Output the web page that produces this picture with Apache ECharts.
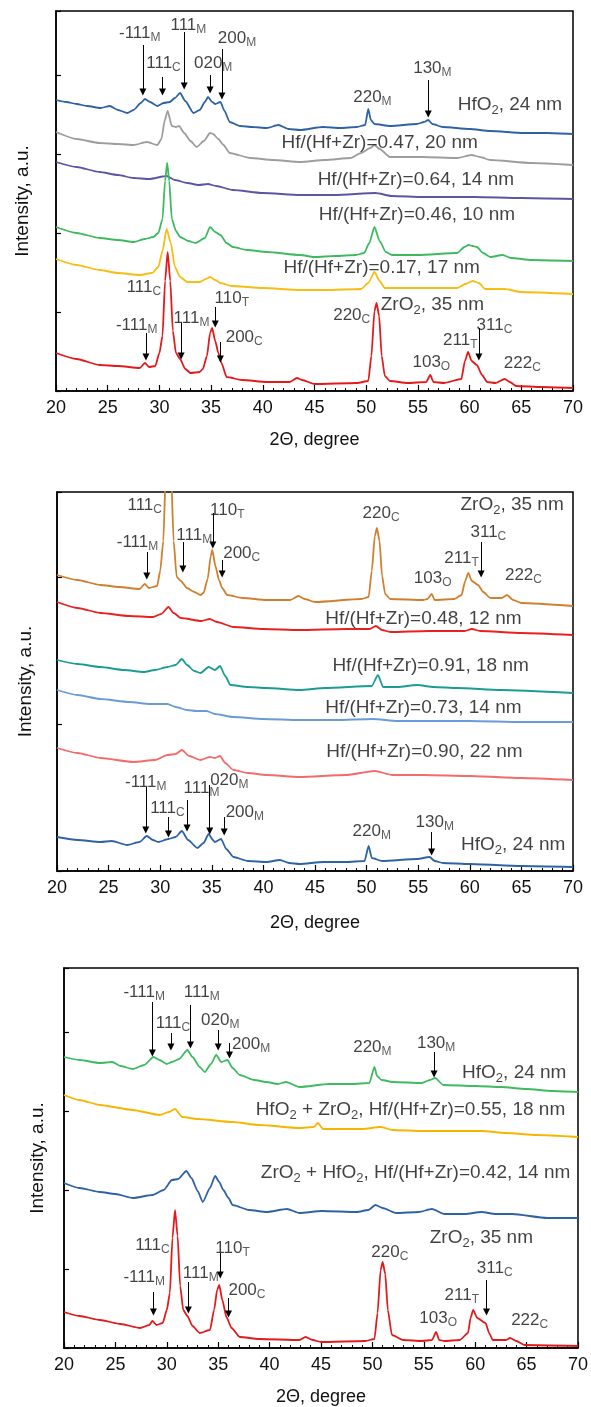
<!DOCTYPE html>
<html>
<head>
<meta charset="utf-8">
<script src="https://cdn.jsdelivr.net/npm/echarts@6/dist/echarts.min.js"></script>
<style>
  html, body { margin: 0; padding: 0; background: #fff; }
  #chart { width: 591px; height: 1407px; }
</style>
</head>
<body>
<div id="chart"></div>
<script>
// ---- panel 1 : series of Hf/(Hf+Zr) films, [2theta, intensity a.u.] ----
const p1HfO2 = [[20,291],[21,289],[22,287],[23,285],[24.3,283],[25.2,285],[26,281],[26.9,278],[27.5,281],[28.2,288],[28.6,292],[29.1,289],[29.8,285],[30.4,288],[31.0,289],[31.5,293],[32.0,298],[32.5,290],[33.3,278],[33.9,281],[34.4,289],[34.7,294],[35.1,289],[35.4,287],[35.9,289],[36.3,280],[36.8,269],[37.8,265],[39,264],[40.4,263],[41.5,266],[42.5,262],[43.6,261],[45.8,264],[47.5,263],[49.1,264],[49.9,266],[50.2,282],[50.45,271],[50.8,267],[52.3,265],[54.9,267],[55.6,269],[56.0,271],[56.4,267],[57.4,264],[60,262],[62.0,260],[65.2,258],[67.5,258],[70,257]];
const p1Hf047 = [[20,259],[22,252],[24.2,248],[26,247],[27.5,246],[28.8,249],[29.8,246],[30.2,252],[30.5,270],[30.8,280],[31.2,265],[31.6,264],[31.9,265],[32.4,258],[33.0,250],[33.6,244],[34.3,250],[34.9,258],[35.2,257],[35.7,252],[36.2,246],[36.8,238],[38.8,233],[41,231],[43.6,229],[46,231],[48.5,233],[49.5,238],[50.4,243],[50.8,246],[51.3,242],[52.3,234],[55.5,234],[58.8,233],[60.2,236],[61,234],[62,231],[66,228],[70,226]];
const p1Hf064 = [[20,229],[22,224],[24.2,219],[26,216],[27.5,213],[29,212],[30.7,215],[31.5,211],[32.7,208],[33.8,206],[34.7,207],[35.5,205],[37.1,201],[40,198],[43.6,196],[47,196],[50.9,198],[52.5,195],[55.5,194],[60.5,194],[65,193],[70,192]];
const p1Hf046 = [[20,164],[22,158],[24.2,153],[26,151],[27.5,149],[28.6,152],[29.4,154],[29.9,158],[30.3,172],[30.55,210],[30.75,228],[30.95,210],[31.2,172],[31.6,160],[32.0,154],[32.8,150],[33.5,148],[34.4,153],[34.9,164],[35.4,159],[35.9,156],[36.5,148],[37.1,144],[38.5,141],[40.4,139],[43.6,136],[45,134],[47,135],[49.0,136],[49.8,138],[50.3,148],[50.8,164],[51.3,150],[51.9,139],[52.5,136],[55,136],[58.8,138],[59.5,144],[59.9,146],[60.3,145],[60.7,144],[61.3,138],[62,134],[63.2,136],[64,133],[66,131],[70,130]];
const p1Hf017 = [[20,132],[22,126],[24.2,121],[26,118],[28.1,116],[29.3,118],[29.9,124],[30.3,140],[30.7,162],[31.1,148],[31.5,124],[32.0,114],[32.7,109],[33.9,109],[34.5,112],[34.9,114],[35.4,111],[35.9,108],[37,105],[40,103],[43.6,101],[46,101],[49.5,102],[50.2,108],[50.8,119],[51.3,110],[51.8,103],[55,103],[58.8,103],[59.6,107],[60.3,110],[60.9,108],[61.5,102],[63.4,102],[65,99],[70,97]];
const p1ZrO2 = [[20,38],[22,32],[24.2,26],[26,25],[28.1,23],[28.6,28],[29.0,24],[29.6,25],[30.0,38],[30.3,55],[30.55,110],[30.8,139],[31.05,110],[31.3,60],[31.6,38],[32.0,32],[32.5,22],[33.0,18],[33.9,19],[34.2,22],[34.6,35],[34.9,58],[35.1,63],[35.4,50],[35.7,38],[36.0,28],[36.5,14],[38,11],[40.4,9],[42.6,9],[43.3,13],[43.8,11],[45,7],[49.1,8],[50.2,10],[50.5,35],[50.8,80],[51.0,88],[51.25,75],[51.5,35],[51.8,15],[52.3,10],[54,8],[55.8,9],[56.2,16],[56.5,9],[57.5,8],[59.2,12],[59.55,30],[59.85,39],[60.2,30],[60.7,26],[61.2,16],[61.7,9],[62.5,8],[63.4,12],[63.9,9],[64.5,5],[67,4],[70,3]];

// ---- panel 2 ----
const p2ZrO2 = [[20,296],[22,291],[24.2,286],[26,284],[28.0,282],[28.5,287],[28.9,283],[29.7,285],[30.0,300],[30.3,330],[30.55,400],[30.8,430],[31.05,400],[31.3,330],[31.6,294],[32.0,290],[32.6,283],[33.3,279],[33.9,276],[34.2,278],[34.6,292],[34.9,315],[35.05,321],[35.35,305],[35.7,291],[36.0,283],[36.5,276],[38,273],[40.3,271],[42.6,271],[43.4,275],[44,272],[45,269],[49.5,272],[50.2,274],[50.5,300],[50.8,335],[51.0,343],[51.25,330],[51.5,295],[51.8,277],[52.3,272],[55.5,271],[55.9,272],[56.3,277],[56.6,271],[58.5,272],[59.2,276],[59.55,290],[59.85,298],[60.2,290],[60.8,286],[61.3,279],[62,273],[63.1,273],[63.6,276],[64.2,271],[65,268],[70,265]];
const p2Hf048 = [[20,269],[22,263],[24.2,258],[27,255],[29.3,254],[30.1,257],[30.8,264],[31.3,258],[32,253],[34,250],[34.8,252],[35.5,249],[37.1,244],[40,242],[43.5,241],[48,242],[50.3,242],[50.9,245],[51.5,241],[52.3,239],[56,240],[59.5,240],[60.2,242],[61,240],[65,238],[70,236]];
const p2Hf091 = [[20,211],[22,207],[24.2,204],[26.5,201],[28.4,199],[29.5,201],[30.7,204],[31.5,206],[32.1,212],[32.6,206],[33.3,200],[33.9,198],[34.7,204],[35.3,201],[35.8,205],[36.3,195],[36.8,186],[38.5,184],[40.3,183],[43.5,181],[46,183],[50.5,185],[51.1,196],[51.6,184],[53,184],[54.9,186],[56.5,184],[58.8,183],[63,181],[70,178]];
const p2Hf073 = [[20,181],[22,176],[24.2,172],[27,169],[29,167],[30.7,167],[31.5,164],[32.6,161],[33.5,160],[34.5,160],[35.3,157],[37.1,154],[40,152],[43.5,151],[47,151],[50.6,152],[53,150],[60,150],[65,149],[70,149]];
const p2Hf090 = [[20,123],[22,118],[24.2,113],[27.4,109],[29.5,111],[30.7,116],[31.5,117],[32.1,121],[32.8,115],[33.9,111],[34.8,114],[35.3,113],[35.8,115],[36.3,108],[37.1,101],[38.5,98],[40.3,96],[43.5,94],[48,96],[50.8,100],[52.5,96],[55.5,96],[60,95],[65,93],[70,91]];
const p2HfO2 = [[20,34],[22,31],[24.2,29],[25.3,30],[26.8,26],[28.0,29],[28.7,35],[29.3,31],[29.8,29],[30.8,32],[31.5,34],[32.1,40],[32.7,31],[33.6,23],[34.2,28],[34.7,37],[35.1,31],[35.3,29],[35.9,32],[36.4,22],[37.1,14],[38.5,10],[40.3,9],[41.6,11],[42.5,8],[43.5,7],[45.8,9],[48,9],[49.8,10],[50.2,25],[50.5,13],[51.5,10],[54.9,12],[56.1,14],[56.6,10],[57.4,8],[60,7],[65,5],[70,4]];

// ---- panel 3 ----
const p3HfO2 = [[20,291],[21.5,288],[23.5,285],[24.7,286],[25.5,282],[26.7,279],[27.8,283],[28.7,291],[29.3,288],[30,284],[30.5,286],[31.2,289],[32.0,298],[32.5,291],[33.2,281],[33.7,276],[34.3,284],[34.8,293],[35.3,286],[35.9,288],[36.4,280],[37.1,273],[38.5,268],[39.7,266],[40.8,264],[41.6,266],[42.9,261],[45.8,264],[48,264],[49.7,265],[50.2,281],[50.45,272],[50.9,268],[52,266],[54.8,265],[55.6,268],[56.1,270],[56.9,263],[60,262],[62.5,261],[65,259],[67.5,257],[70,256]];
const p3Hf055 = [[20,253],[21.5,248],[23.5,243],[26.7,238],[29.3,233],[30.2,236],[30.8,239],[31.5,231],[33,229],[36.4,226],[39,223],[42.9,220],[44.3,221],[44.7,225],[45.2,219],[47,219],[49,219],[50.8,221],[52,218],[55,217],[58,217],[60.6,217],[63,215],[66,213],[70,211]];
const p3Hf042 = [[20,165],[21.5,160],[23.5,156],[25,154],[26.7,150],[28.6,153],[29.7,158],[30.5,168],[31.1,169],[31.9,177],[32.4,170],[33.0,157],[33.5,146],[34.2,160],[34.7,172],[35.1,166],[35.5,158],[36.0,150],[36.4,143],[38,138],[39.7,136],[41.7,139],[42.9,135],[45.1,137],[48.5,136],[49.6,138],[50.3,143],[51.0,140],[52.3,135],[54.5,136],[55.8,139],[57.0,134],[59,134],[60.6,136],[62,134],[63.6,134],[67,130],[70,130]];
const p3ZrO2 = [[20,36],[21.5,32],[23.5,28],[25.5,24],[27.4,20],[28.3,23],[28.6,27],[29.0,23],[29.6,25],[30.0,38],[30.3,55],[30.55,110],[30.8,138],[31.05,112],[31.3,62],[31.6,38],[32.0,32],[32.5,22],[33.2,15],[34.2,18],[34.6,38],[34.9,58],[35.1,63],[35.4,48],[35.8,31],[36.3,20],[37.1,11],[39,9],[42.9,8],[43.5,11],[44.2,8],[45,6],[49.3,7],[50.2,9],[50.5,35],[50.8,78],[51.0,86],[51.25,74],[51.5,38],[51.9,13],[53,8],[54.8,7],[55.8,8],[56.2,16],[56.5,8],[57,7],[58.5,8],[59.3,15],[59.55,30],[59.8,38],[60.2,30],[61.0,25],[61.4,14],[61.7,8],[63.0,8],[63.4,10],[64.0,7],[64.8,3],[70,2]];

// peak index labels and sample names
const pk = (hkl, ph) => '{p|' + hkl + '}{q|' + ph + '}';
const st = s => '{t|' + s.replace(/_(\w)/g, '}{u|$1}{t|') + '}';

const p1Notes = [
  [28.1, 358, pk('-111', 'M')], [30.4, 328, pk('111', 'C')], [32.8, 366, pk('111', 'M')],
  [35.2, 328, pk('020', 'M')], [37.5, 353, pk('200', 'M')], [50.6, 294, pk('220', 'M')],
  [56.4, 323, pk('130', 'M')], [63.9, 286, st('HfO_2, 24 nm')],
  [51.3, 248, st('Hf/(Hf+Zr)=0.47, 20 nm')], [54.8, 211, st('Hf/(Hf+Zr)=0.64, 14 nm')],
  [54.9, 176, st('Hf/(Hf+Zr)=0.46, 10 nm')], [51.5, 123, st('Hf/(Hf+Zr)=0.17, 17 nm')],
  [56.4, 86, st('ZrO_2, 35 nm')], [48.6, 76, pk('220', 'C')], [62.4, 66, pk('311', 'C')],
  [59.1, 51, pk('211', 'T')], [56.3, 29, pk('103', 'O')], [65.1, 28, pk('222', 'C')],
  [28.5, 104, pk('111', 'C')], [37.0, 93, pk('110', 'T')], [27.8, 66, pk('-111', 'M')],
  [33.1, 73, pk('111', 'M')], [38.2, 54, pk('200', 'C')]
];
const p1Arrows = [[28.4,346,299],[30.3,314,299],[32.4,359,305],[34.9,316,301],[36.05,342,295],[56.0,311,277],[60.9,63,34],[35.4,84,67],[28.7,58,34],[32.1,68,35],[35.9,49,32]];

const p2Notes = [
  [28.5, 366, pk('111', 'C')], [36.5, 361, pk('110', 'T')], [27.8, 329, pk('-111', 'M')],
  [33.3, 336, pk('111', 'M')], [37.9, 318, pk('200', 'C')], [51.4, 358, pk('220', 'C')],
  [64.1, 366, st('ZrO_2, 35 nm')], [61.8, 339, pk('311', 'C')], [59.2, 313, pk('211', 'T')],
  [56.4, 293, pk('103', 'O')], [65.2, 296, pk('222', 'C')],
  [55.5, 252, st('Hf/(Hf+Zr)=0.48, 12 nm')], [56.2, 205, st('Hf/(Hf+Zr)=0.91, 18 nm')],
  [55.5, 163, st('Hf/(Hf+Zr)=0.73, 14 nm')], [55.6, 119, st('Hf/(Hf+Zr)=0.90, 22 nm')],
  [50.5, 40, pk('220', 'M')], [56.6, 49, pk('130', 'M')], [64.2, 26, st('HfO_2, 24 nm')],
  [28.6, 89, pk('-111', 'M')], [30.7, 63, pk('111', 'C')], [34.0, 83, pk('111', 'M')],
  [36.7, 91, pk('020', 'M')], [38.2, 59, pk('200', 'M')]
];
const p2Arrows = [[35.1,358,326],[28.7,319,295],[32.2,329,302],[36.0,311,297],[61.1,329,297],[56.3,39,19],[28.6,84,41],[30.8,54,37],[32.6,71,43],[34.8,86,40],[36.2,54,39]];

const p3Notes = [
  [27.8, 356, pk('-111', 'M')], [30.6, 325, pk('111', 'C')], [33.4, 356, pk('111', 'M')],
  [35.2, 328, pk('020', 'M')], [38.2, 304, pk('200', 'M')], [50.0, 301, pk('220', 'M')],
  [56.2, 305, pk('130', 'M')], [63.8, 275, st('HfO_2, 24 nm')],
  [53.7, 238, st('HfO_2 + ZrO_2, Hf/(Hf+Zr)=0.55, 18 nm')],
  [54.2, 175, st('ZrO_2 + HfO_2, Hf/(Hf+Zr)=0.42, 14 nm')],
  [60.6, 110, st('ZrO_2, 35 nm')], [51.7, 96, pk('220', 'C')], [61.9, 80, pk('311', 'C')],
  [58.7, 53, pk('211', 'T')], [56.4, 30, pk('103', 'O')], [65.3, 28, pk('222', 'C')],
  [28.6, 103, pk('111', 'C')], [36.4, 100, pk('110', 'T')], [27.8, 71, pk('-111', 'M')],
  [33.3, 75, pk('111', 'M')], [37.8, 58, pk('200', 'C')]
];
const p3Arrows = [[28.6,346,295],[30.4,315,301],[32.3,343,303],[35.0,318,301],[36.1,305,293],[56.0,296,274],[61.1,68,36],[35.2,95,73],[28.7,56,36],[32.1,66,38],[36.0,50,34]];

const FONT = '"Liberation Sans", Arial, sans-serif';
const INK = '#111';
const RICH = {
  p: { fontSize: 17, fontFamily: FONT, color: INK },
  q: { fontSize: 12, fontFamily: FONT, color: '#333', padding: [10, 0, 0, 0] },
  t: { fontSize: 19, fontFamily: FONT, color: INK },
  u: { fontSize: 13, fontFamily: FONT, color: INK, padding: [10, 0, 0, 0] }
};

const grids = [
  { left: 56, top: 11, width: 517, height: 380 },
  { left: 57, top: 492, width: 516, height: 379 },
  { left: 64, top: 968, width: 516, height: 380 }
];
const yMax = [380, 379, 380];
const yStep = [79, 147, 79];
const xNameGap = [40, 43, 40];
const yNameGap = [24, 22, 17];

function curve(data, color, i) {
  return {
    type: 'line', data: data, xAxisIndex: i, yAxisIndex: i,
    showSymbol: false, symbol: 'none', smooth: 0.2, smoothMonotone: 'x',
    lineStyle: { color: color, width: 1.8 }, itemStyle: { color: color },
    silent: true, z: 2
  };
}

function notes(list, arrows, i) {
  return {
    type: 'scatter', xAxisIndex: i, yAxisIndex: i, symbolSize: 1, silent: true, z: 5,
    itemStyle: { color: 'rgba(0,0,0,0)' },
    data: list.map(n => ({ value: [n[0], n[1]], name: n[2] })),
    label: { show: true, position: 'inside', color: INK, textBorderWidth: 0,
             formatter: p => p.name, rich: RICH },
    markLine: {
      silent: true, symbol: ['none', 'triangle'], symbolSize: 7,
      label: { show: false }, emphasis: { disabled: true },
      lineStyle: { color: '#000', width: 1, type: 'solid' },
      data: arrows.map(a => [{ coord: [a[0], a[1]] }, { coord: [a[0], a[2]] }])
    }
  };
}

const option = {
  animation: false,
  backgroundColor: '#fff',
  grid: grids.map(g => Object.assign({ show: true, borderColor: '#000', borderWidth: 1.5, containLabel: false }, g)),
  xAxis: grids.map((g, i) => ({
    type: 'value', gridIndex: i, min: 20, max: 70, interval: 5,
    name: '2\u0398, degree', nameLocation: 'middle', nameGap: xNameGap[i],
    nameTextStyle: { fontSize: 18, color: INK, fontFamily: FONT },
    axisLine: { onZero: false, lineStyle: { color: '#000', width: 1.5 } },
    axisTick: { inside: true, length: 6, lineStyle: { color: '#000', width: 1.2 } },
    minorTick: { show: true, splitNumber: 5, length: 3, lineStyle: { color: '#000', width: 1 } },
    axisLabel: { fontSize: 18, color: INK, margin: 8, fontFamily: FONT },
    splitLine: { show: false }, minorSplitLine: { show: false }
  })),
  yAxis: grids.map((g, i) => ({
    type: 'value', gridIndex: i, min: 0, max: yMax[i], interval: yStep[i],
    name: 'Intensity, a.u.', nameLocation: 'middle', nameGap: yNameGap[i],
    nameTextStyle: { fontSize: 19, color: INK, fontFamily: FONT },
    axisLine: { onZero: false, lineStyle: { color: '#000', width: 1.5 } },
    axisTick: { inside: true, length: 5, lineStyle: { color: '#000', width: 1.2 } },
    axisLabel: { show: false }, splitLine: { show: false }
  })),
  series: [
    curve(p1HfO2, '#2e62a5', 0),
    curve(p1Hf047, '#9d9d9d', 0),
    curve(p1Hf064, '#5b55a3', 0),
    curve(p1Hf046, '#3dba5e', 0),
    curve(p1Hf017, '#f8bc12', 0),
    curve(p1ZrO2, '#e31a1c', 0),
    notes(p1Notes, p1Arrows, 0),

    curve(p2ZrO2, '#d27f2d', 1),
    curve(p2Hf048, '#e8201f', 1),
    curve(p2Hf091, '#1a9c94', 1),
    curve(p2Hf073, '#6a9bd8', 1),
    curve(p2Hf090, '#f36b6b', 1),
    curve(p2HfO2, '#2e62a5', 1),
    notes(p2Notes, p2Arrows, 1),

    curve(p3HfO2, '#3dbb61', 2),
    curve(p3Hf055, '#f7b500', 2),
    curve(p3Hf042, '#2e62a5', 2),
    curve(p3ZrO2, '#e31a1c', 2),
    notes(p3Notes, p3Arrows, 2)
  ]
};

const chart = echarts.init(document.getElementById('chart'));
chart.setOption(option);
</script>
</body>
</html>
